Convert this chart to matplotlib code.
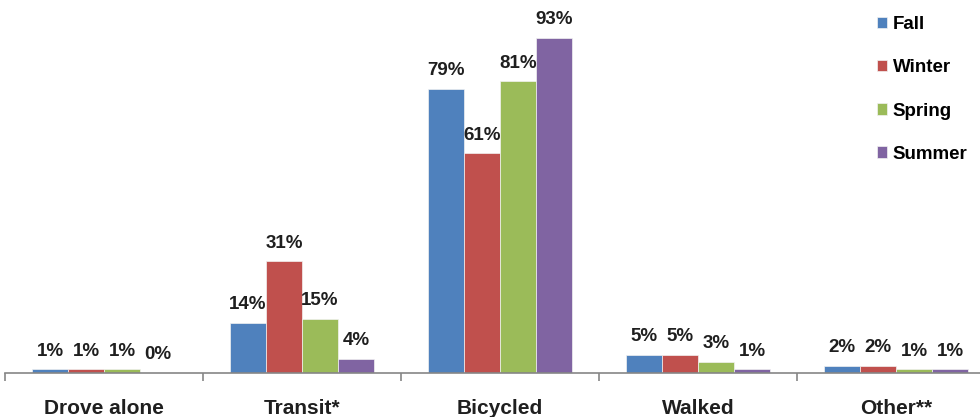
import matplotlib.pyplot as plt
import numpy as np

# Commute mode share by season
categories = ['Drove alone', 'Transit*', 'Bicycled', 'Walked', 'Other**']
seasons = ['Fall', 'Winter', 'Spring', 'Summer']
fall = [1, 14, 79, 5, 2]
winter = [1, 31, 61, 5, 2]
spring = [1, 15, 81, 3, 1]
summer = [0, 4, 93, 1, 1]
colors = ['#4F81BD', '#C0504D', '#9BBB59', '#8064A2']

plt.rcParams['font.family'] = ['Liberation Sans', 'DejaVu Sans']
text_color = '#1f1f1f'

fig = plt.figure(figsize=(9.8, 4.17), dpi=100)
# axis runs slightly past the right edge of the figure
ax = fig.add_axes([5 / 980, 44 / 417, 990 / 980, 373 / 417])

x = np.arange(len(categories))
width = 0.182
series = [fall, winter, spring, summer]
bars = []
for i, (vals, name) in enumerate(zip(series, seasons)):
    offset = (i - 1.5) * width
    b = ax.bar(x + offset, vals, width, color=colors[i], label=name,
               edgecolor='#f2f2f2', linewidth=0.5)
    bars.append(b)
    for xi, v in zip(x + offset, vals):
        ax.annotate(f'{v}%', (xi, v), xytext=(0, 10), textcoords='offset points',
                    ha='center', va='baseline', fontsize=13.5, fontweight='bold',
                    color=text_color)

ax.set_xlim(-0.5, 4.5)
ax.set_ylim(0, 373 / 3.6)

for side in ['top', 'right', 'left']:
    ax.spines[side].set_visible(False)
ax.spines['bottom'].set_color('#868686')
ax.spines['bottom'].set_linewidth(1.2)
ax.set_yticks([])

ax.set_xticks(x)
ax.set_xticklabels(categories, fontsize=15, fontweight='bold', color=text_color)
ax.tick_params(axis='x', which='major', length=0, pad=18.5)
ax.set_xticks(np.arange(-0.5, 5, 1), minor=True)
ax.tick_params(axis='x', which='minor', length=6, width=1.2, color='#868686')

fig.legend(handles=bars, labels=seasons, loc='upper left',
           bbox_to_anchor=(877 / 980, 1 - 16 / 417), frameon=False,
           prop={'weight': 'bold', 'size': 13.5},
           handlelength=0.55, handleheight=0.55, handletextpad=0.3,
           labelspacing=1.4, borderaxespad=0, borderpad=0)

fig.savefig('out.png', dpi=100)
